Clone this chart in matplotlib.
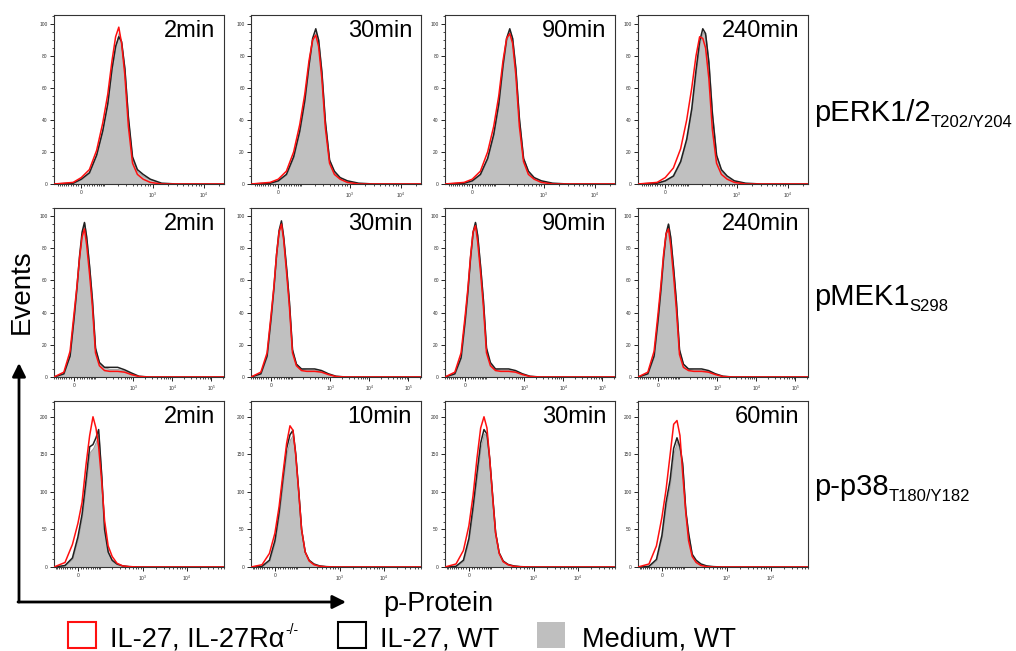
import numpy as np
import matplotlib
matplotlib.use('Agg')
import matplotlib.pyplot as plt
from matplotlib.patches import Rectangle, FancyArrowPatch
from matplotlib.ticker import FixedLocator, MultipleLocator, NullFormatter

plt.rcParams['font.family'] = ['Liberation Sans', 'DejaVu Sans']
plt.rcParams['mathtext.fontset'] = 'custom'
plt.rcParams['mathtext.rm'] = 'Liberation Sans'
plt.rcParams['mathtext.it'] = 'Liberation Sans:italic'

# ---- data ----
proteins = ['pERK1/2', 'pMEK1', 'p-p38']
sites = ['T202/Y204', 'S298', 'T180/Y182']
erk_times = ['2min', '30min', '90min', '240min']
mek_times = ['2min', '30min', '90min', '240min']
p38_times = ['2min', '10min', '30min', '60min']

# pERK1/2 (intensity bins, events)
erk_x = [-125, -30, 0, 30, 60, 90, 120, 150, 180, 210, 240, 280, 330, 400, 500, 650, 900, 1500, 3000, 25000]
erk_ko = [[0, 1, 4, 9, 21, 38, 56, 77, 92, 98, 88, 68, 36, 13, 6, 3, 1, 0, 0, 0],
          [0, 1, 3, 8, 20, 37, 56, 77, 90, 93, 86, 66, 35, 13, 6, 3, 1, 0, 0, 0],
          [0, 1, 3, 8, 20, 36, 55, 77, 91, 94, 88, 68, 36, 14, 6, 3, 1, 0, 0, 0],
          [0, 1, 4, 10, 22, 40, 60, 80, 92, 91, 85, 66, 34, 13, 6, 3, 1, 0, 0, 0]]
erk_wt = [[0, 0.5, 3, 7, 18, 33, 50, 72, 86, 92, 89, 72, 42, 17, 9, 6, 3, 0.5, 0, 0],
          [0, 0.5, 2, 6, 17, 33, 52, 74, 91, 97, 90, 70, 39, 15, 8, 4, 2, 0.5, 0, 0],
          [0, 0.5, 2, 6, 16, 31, 50, 74, 91, 97, 91, 72, 41, 16, 8, 4, 2, 0.5, 0, 0],
          [0, 0.5, 2, 5, 14, 28, 47, 71, 89, 97, 94, 76, 44, 18, 9, 5, 2, 0.5, 0, 0]]
erk_med = [[0, 0.5, 3, 7, 19, 35, 52, 73, 86, 95, 88, 72, 40, 15, 8, 5, 3, 0.5, 0, 0],
           [0, 0.5, 2, 6, 17, 33, 52, 75, 90, 95, 90, 70, 38, 15, 7, 4, 2, 0.5, 0, 0],
           [0, 0.5, 2, 6, 16, 31, 50, 74, 90, 96, 91, 72, 40, 16, 8, 4, 2, 0.5, 0, 0],
           [0, 0.5, 2, 5, 14, 28, 47, 70, 88, 95, 93, 76, 44, 18, 8, 4, 2, 0.5, 0, 0]]

# pMEK1
mek_x = [-92, -40, -15, 0, 10, 20, 30, 40, 50, 65, 80, 100, 130, 180, 250, 400, 600, 900, 1400, 2500, 210000]
mek_ko = [[0, 3, 16, 40, 56, 74, 87, 92, 82, 63, 44, 15, 7, 4, 3.5, 3.5, 3, 1.5, 0.3, 0, 0],
          [0, 3, 15, 39, 56, 76, 90, 95, 85, 64, 44, 15, 7, 4, 3.5, 3.5, 3, 1.5, 0.3, 0, 0],
          [0, 3, 15, 38, 55, 75, 90, 94, 84, 64, 44, 15, 7, 4, 3.5, 3.5, 3, 1.5, 0.3, 0, 0],
          [0, 3, 16, 40, 57, 76, 89, 92, 82, 62, 42, 14, 6, 4, 3.5, 3.5, 3, 1.5, 0.3, 0, 0]]
mek_wt = [[0, 2, 13, 37, 55, 75, 90, 96, 87, 68, 48, 18, 9, 6, 6, 6, 4.5, 2.5, 0.5, 0, 0],
          [0, 2, 13, 37, 55, 76, 91, 97, 87, 67, 47, 17, 8, 5, 5, 5, 4, 2, 0.5, 0, 0],
          [0, 2, 12, 35, 53, 74, 90, 96, 88, 68, 48, 18, 9, 5, 5, 5, 4, 2, 0.5, 0, 0],
          [0, 2, 13, 36, 54, 74, 89, 95, 87, 67, 47, 17, 8, 5, 5, 5, 4, 2, 0.5, 0, 0]]
mek_med = [[0, 2, 14, 38, 55, 75, 90, 96, 86, 67, 48, 17, 9, 6, 5, 5, 4, 2, 0.5, 0, 0],
           [0, 2, 13, 37, 55, 76, 91, 96, 86, 66, 46, 16, 8, 5, 4.5, 4.5, 3.5, 2, 0.5, 0, 0],
           [0, 2, 12, 35, 53, 74, 90, 96, 87, 67, 47, 17, 8, 5, 4.5, 4.5, 3.5, 2, 0.5, 0, 0],
           [0, 2, 13, 36, 54, 74, 89, 95, 86, 66, 46, 16, 8, 5, 4.5, 4.5, 3.5, 2, 0.5, 0, 0]]

# p-p38
p38_x = [-110, -50, -20, 0, 15, 30, 45, 60, 75, 90, 110, 130, 160, 200, 260, 350, 500, 800, 70000]
p38_ko = [[0, 6, 30, 58, 86, 136, 175, 200, 185, 160, 112, 62, 28, 14, 5, 1.5, 0.5, 0, 0],
          [0, 3, 18, 45, 80, 125, 165, 188, 182, 150, 98, 50, 20, 8, 3, 1, 0.3, 0, 0],
          [0, 4, 22, 55, 95, 145, 185, 200, 185, 145, 90, 45, 18, 7, 3, 1, 0.3, 0, 0],
          [0, 4, 28, 66, 103, 148, 190, 195, 175, 125, 72, 35, 14, 6, 2, 0.5, 0, 0, 0]]
p38_wt = [[0, 2, 12, 40, 70, 115, 160, 163, 172, 183, 120, 50, 20, 9, 4, 1.5, 0.5, 0, 0],
          [0, 1, 9, 35, 72, 118, 158, 176, 182, 152, 100, 50, 20, 9, 4, 1.5, 0.5, 0, 0],
          [0, 1, 9, 38, 80, 125, 165, 183, 177, 145, 92, 46, 19, 8, 3.5, 1.5, 0.5, 0, 0],
          [0, 1, 10, 42, 86, 115, 158, 172, 160, 138, 75, 45, 17, 9, 4, 1.5, 0.5, 0, 0]]
p38_med = [[0, 2, 11, 38, 67, 110, 153, 158, 167, 177, 117, 48, 19, 8, 3.5, 1.5, 0.5, 0, 0],
           [0, 1, 8, 33, 69, 113, 152, 170, 176, 148, 96, 48, 19, 8, 3.5, 1.5, 0.5, 0, 0],
           [0, 1, 8, 36, 77, 120, 159, 178, 174, 142, 90, 45, 18, 8, 3.5, 1.5, 0.5, 0, 0],
           [0, 1, 9, 40, 82, 110, 152, 167, 156, 134, 72, 43, 16, 8, 3.5, 1.5, 0.5, 0, 0]]

legend_labels = ['IL-27, IL-27R\u03b1', 'IL-27, WT', 'Medium, WT']
legend_sup = '-/-'

rows = [
    dict(x=erk_x, ko=erk_ko, wt=erk_wt, med=erk_med, times=erk_times, c=80, xmax=25000,
         ytop=105.6, ystep=20, yminor=5, xt=[0, 1e3, 1e4]),
    dict(x=mek_x, ko=mek_ko, wt=mek_wt, med=mek_med, times=mek_times, c=62, xmax=210000,
         ytop=105, ystep=20, yminor=5, xt=[0, 1e3, 1e4, 1e5]),
    dict(x=p38_x, ko=p38_ko, wt=p38_wt, med=p38_med, times=p38_times, c=69, xmax=70000,
         ytop=221, ystep=50, yminor=10, xt=[0, 1e3, 1e4]),
]

W, H = 1016, 651
fig = plt.figure(figsize=(W / 100, H / 100), dpi=100)
renderer = fig.canvas.get_renderer()

col_left = [54, 251, 445, 638]
row_top = [15, 208, 401]
row_h = [169, 169, 166]
pw = 170

minor_x = np.concatenate([np.arange(-100, 0, 10), np.arange(10, 100, 10),
                          np.arange(100, 1000, 100), np.arange(2000, 10000, 1000),
                          np.arange(20000, 100000, 10000), [200000]])


def make_scale(c):
    return (lambda v: np.arcsinh(np.asarray(v) / c), lambda u: c * np.sinh(np.asarray(u)))


for r, row in enumerate(rows):
    for k in range(4):
        ax = fig.add_axes([col_left[k] / W, 1 - (row_top[r] + row_h[r]) / H, pw / W, row_h[r] / H])
        ax.set_xscale('function', functions=make_scale(row['c']))
        ax.fill_between(row['x'], row['med'][k], color='#c0c0c0', edgecolor='#9a9a9a', lw=0.6, zorder=1)
        ax.plot(row['x'], row['wt'][k], color='#202020', lw=1.1, zorder=2, solid_joinstyle='round')
        ax.plot(row['x'], row['ko'][k], color='#ff1010', lw=1.1, zorder=3, solid_joinstyle='round')
        ax.set_xlim(row['x'][0], row['xmax'])
        ax.set_ylim(0, row['ytop'])

        ax.xaxis.set_major_locator(FixedLocator(row['xt']))
        ax.set_xticklabels(['0'] + ['$10^{%d}$' % int(np.log10(t)) for t in row['xt'][1:]])
        ax.xaxis.set_minor_locator(FixedLocator(minor_x))
        ax.xaxis.set_minor_formatter(NullFormatter())
        ax.yaxis.set_major_locator(MultipleLocator(row['ystep']))
        ax.yaxis.set_minor_locator(MultipleLocator(row['yminor']))
        ax.tick_params(which='major', direction='out', length=3, width=0.6, labelsize=3.5,
                       labelcolor='#333333', pad=1.5)
        ax.tick_params(which='minor', direction='out', length=1.6, width=0.5)
        for s in ax.spines.values():
            s.set_linewidth(0.8)
            s.set_color('#333333')

        ax.text(1 - 9 / pw, 1 - 5 / row_h[r], row['times'][k], transform=ax.transAxes,
                ha='right', va='top', fontsize=17)

    # row label with subscript
    yb = 1 - [121, 305, 495][r] / H
    t = fig.text(814 / W, yb, proteins[r], fontsize=21, va='baseline', ha='left')
    bb = t.get_window_extent(renderer)
    fig.text(bb.x1 / W, yb - 6 / H, sites[r], fontsize=12, va='baseline', ha='left')

# axis arrows
fig.add_artist(FancyArrowPatch((19 / W, 1 - 602 / H), (19 / W, 1 - 363 / H), transform=fig.transFigure,
                               arrowstyle='-|>', mutation_scale=20, lw=2, color='black',
                               shrinkA=0, shrinkB=0))
fig.add_artist(FancyArrowPatch((18 / W, 1 - 602 / H), (346 / W, 1 - 602 / H), transform=fig.transFigure,
                               arrowstyle='-|>', mutation_scale=20, lw=2, color='black',
                               shrinkA=0, shrinkB=0))
fig.text(22 / W, 1 - 292 / H, 'Events', rotation=90, ha='center', va='center', fontsize=20)
fig.text(438 / W, 1 - 604 / H, 'p-Protein', ha='center', va='center', fontsize=19.5)

# legend
leg_sq = [68, 338, 537]
leg_tx = [110, 380, 582]
leg_style = [dict(fill=False, edgecolor='#ff1010', lw=1.5),
             dict(fill=False, edgecolor='black', lw=1.5),
             dict(fill=True, facecolor='#bfbfbf', edgecolor='none')]
for i in range(3):
    fig.add_artist(Rectangle((leg_sq[i] / W, 1 - 648 / H), 28 / W, 26 / H, transform=fig.transFigure,
                             **leg_style[i]))
    t = fig.text(leg_tx[i] / W, 1 - 646 / H, legend_labels[i], fontsize=19.5, va='baseline', ha='left')
    if i == 0:
        bb = t.get_window_extent(renderer)
        fig.text(bb.x1 / W + 1 / W, 1 - 634 / H, legend_sup, fontsize=10, va='baseline', ha='left')

fig.savefig('out.png', dpi=100)
